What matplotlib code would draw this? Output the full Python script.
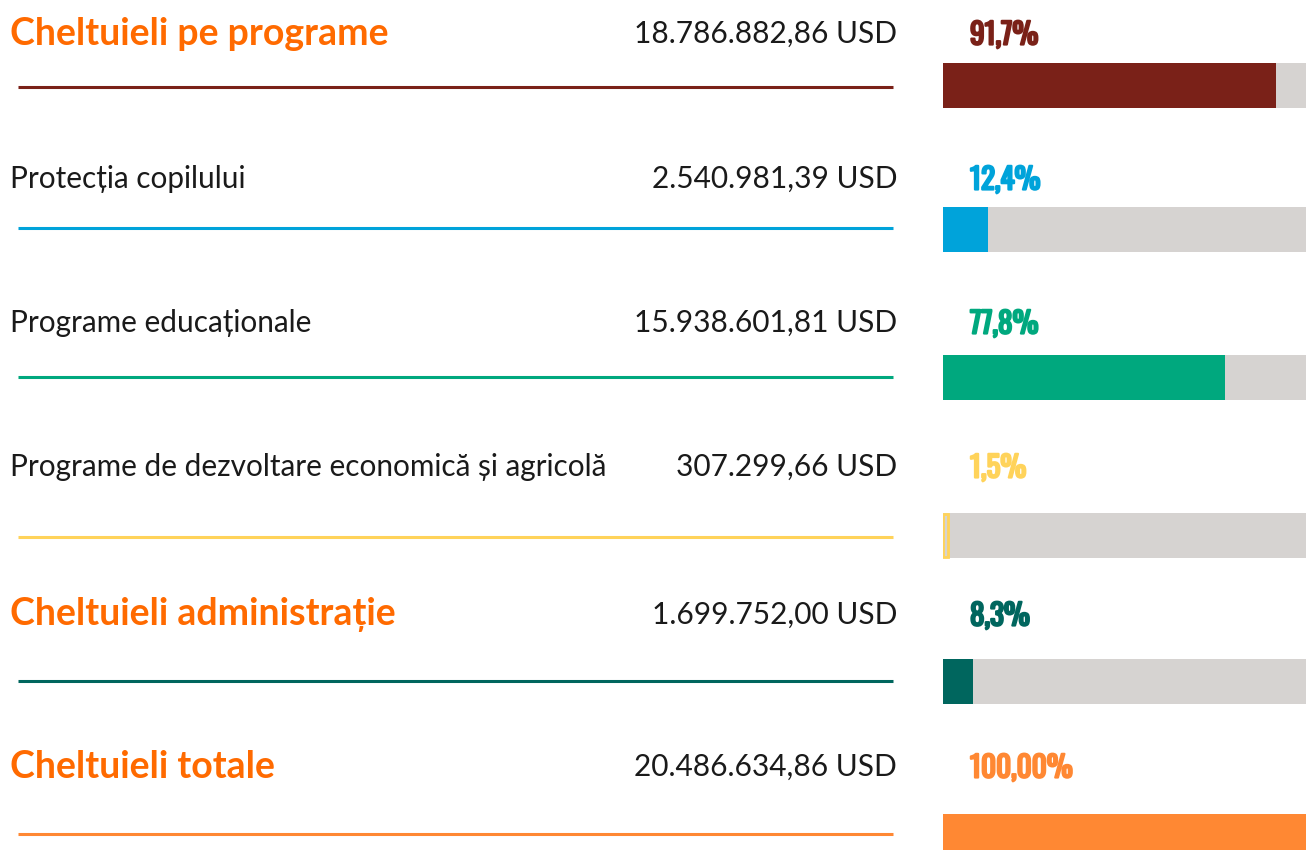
import matplotlib
matplotlib.use("Agg")
import matplotlib.pyplot as plt
import matplotlib.patheffects as pe

W, H = 1306, 850

categories = ["Cheltuieli pe programe", "Protecția copilului", "Programe educaționale",
              "Programe de dezvoltare economică și agricolă", "Cheltuieli administrație",
              "Cheltuieli totale"]
amounts = ["18.786.882,86 USD", "2.540.981,39 USD", "15.938.601,81 USD",
           "307.299,66 USD", "1.699.752,00 USD", "20.486.634,86 USD"]
shares = [91.7, 12.4, 77.8, 1.5, 8.3, 100.0]
share_labels = ["91,7%", "12,4%", "77,8%", "1,5%", "8,3%", "100,00%"]
is_header = [True, False, False, False, True, True]
colors = ["#7A2118", "#00A3DA", "#00A87E", "#FFD35A", "#00665E", "#FF8833"]

# layout (pixel rows)
text_y = [34, 179, 323, 467, 615, 767]
line_y = [87, 228, 377, 537, 681, 834]
bar_top = [63, 207, 355, 513, 659, 814]
bar_h = 45

fig = plt.figure(figsize=(W / 100, H / 100), dpi=100)
ax = fig.add_axes([0, 0, 1, 1])
ax.set_xlim(0, W)
ax.set_ylim(H, 0)
ax.axis("off")

for i, cat in enumerate(categories):
    if is_header[i]:
        ax.text(10, text_y[i], cat, fontsize=27, fontweight="bold", family="Lato",
                color="#FF6A00", va="center", ha="left")
    else:
        ax.text(10, text_y[i], cat, fontsize=21.4, family="Lato", color="#1A1A1A",
                va="center", ha="left")
    ax.text(897, text_y[i], amounts[i], fontsize=21.5, family="Lato", color="#1A1A1A",
            va="center", ha="right")
    ax.plot([18, 893], [line_y[i], line_y[i]], color=colors[i], lw=2.2,
            solid_capstyle="butt")
    # Oswald here has no bold face, so thicken it with a stroke
    ax.text(970, text_y[i] + 1, share_labels[i], fontsize=21, fontweight="bold",
            family=["Oswald", "Archivo Narrow", "DejaVu Sans"], color=colors[i],
            va="center", ha="left",
            path_effects=[pe.withStroke(linewidth=1.6, foreground=colors[i])])

bx = fig.add_axes([943 / W, 0, 1 - 943 / W, 1])
bx.set_xlim(0, 100)
bx.set_ylim(H, 0)
bx.axis("off")
centers = [t + bar_h / 2 for t in bar_top]
bx.barh(centers, [100] * len(shares), height=bar_h, color="#D6D3D1")
for c, s, col in zip(centers, shares, colors):
    if s < 3:
        bx.barh(c, s, height=bar_h - 2, color="#D6D3D1", edgecolor=col, linewidth=2)
    else:
        bx.barh(c, s, height=bar_h, color=col)

fig.savefig("out.png", dpi=100)
